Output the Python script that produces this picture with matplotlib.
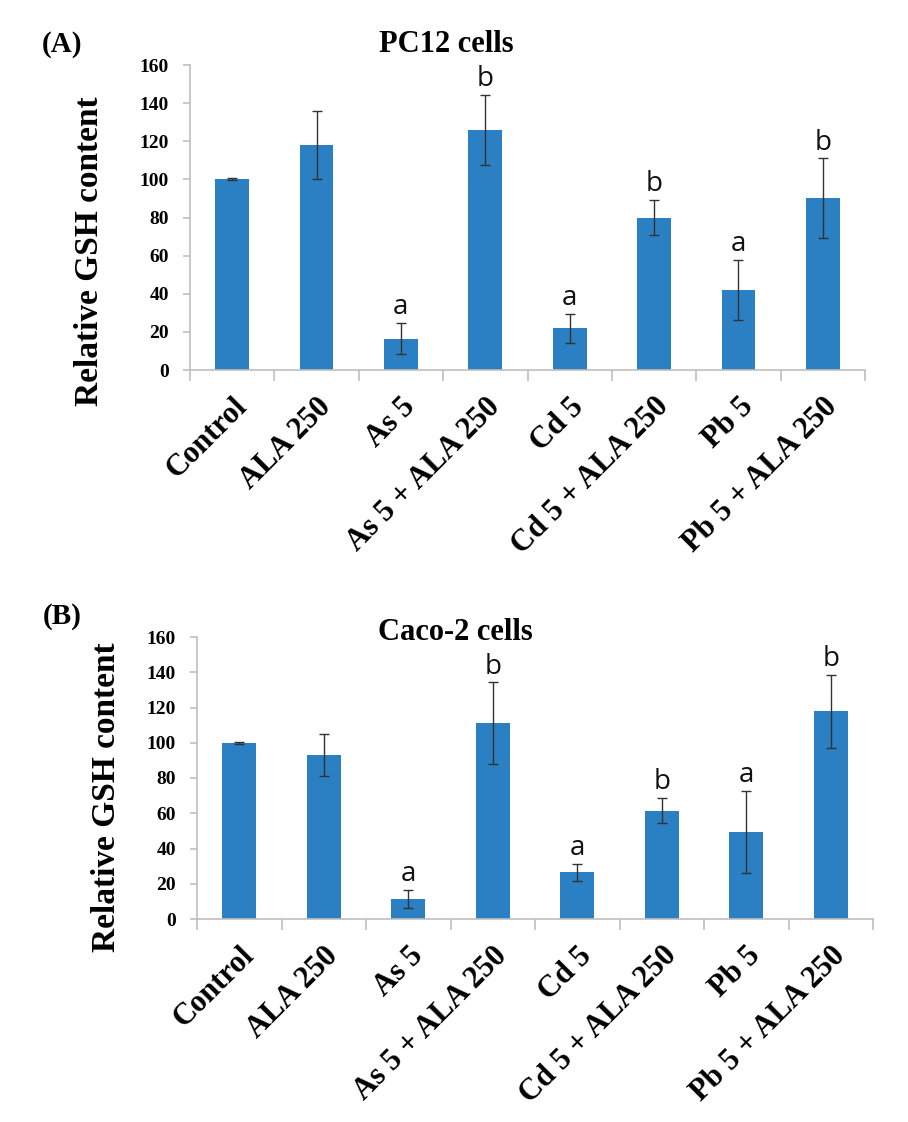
import matplotlib
matplotlib.use("Agg")
import matplotlib.pyplot as plt
import numpy as np

categories = ["Control", "ALA 250", "As 5", "As 5 + ALA 250", "Cd 5",
              "Cd 5 + ALA 250", "Pb 5", "Pb 5 + ALA 250"]

pc12_values = [100, 118, 16.5, 126, 22, 80, 42, 90]
pc12_errors = [0.5, 18, 8, 18.5, 7.6, 9.2, 15.7, 21]
pc12_letters = ["", "", "a", "b", "a", "b", "a", "b"]

caco2_values = [100, 93, 11.5, 111, 26.5, 61.5, 49.5, 118]
caco2_errors = [0.5, 11.8, 5, 23.2, 4.7, 7.2, 23.4, 20.7]
caco2_letters = ["", "", "a", "b", "a", "b", "a", "b"]

yticks = [0, 20, 40, 60, 80, 100, 120, 140, 160]

W, H = 908, 1122
fig = plt.figure(figsize=(W / 100, H / 100), dpi=100)

SERIF = ["Liberation Serif", "DejaVu Serif"]
SANS = ["Open Sans", "Liberation Sans", "DejaVu Sans"]
BAR = "#2a80c2"
AXC = "#bfbfbf"


def px_axes(left, top, right, bottom):
    return fig.add_axes([left / W, 1 - bottom / H, (right - left) / W, (bottom - top) / H])


def draw(ax, values, errors, letters):
    x = np.arange(len(categories))
    ax.bar(x, values, width=0.4, color=BAR, zorder=2)
    ax.errorbar(x, values, yerr=errors, fmt="none", ecolor="#333333",
                elinewidth=1.0, capsize=3.5, capthick=1.0, zorder=3)
    for xi, v, e, l in zip(x, values, errors, letters):
        if l:
            ax.text(xi, v + e + 1.0, l, ha="center", va="bottom",
                    fontsize=20, family=SANS, color="#111111", clip_on=False)
    ax.set_xlim(-0.5, len(categories) - 0.5)
    ax.set_ylim(0, 160)
    ax.set_yticks(yticks)
    ax.set_yticklabels([str(t) for t in yticks], family=SERIF,
                       fontweight="bold", fontsize=14)
    ax.set_xticks(x)
    ax.set_xticklabels(categories, rotation=45, ha="right",
                       rotation_mode="anchor", family=SERIF,
                       fontweight="bold", fontsize=22)
    ax.set_xticks(np.arange(len(categories) + 1) - 0.5, minor=True)
    ax.tick_params(axis="x", which="major", length=0, pad=16)
    ax.tick_params(axis="x", which="minor", length=8, color=AXC, width=1.2)
    ax.tick_params(axis="y", length=5, color=AXC, width=1.2, pad=10)
    for s in ["top", "right"]:
        ax.spines[s].set_visible(False)
    for s in ["left", "bottom"]:
        ax.spines[s].set_color(AXC)
        ax.spines[s].set_linewidth(1.2)


axA = px_axes(190, 65, 865, 370)
draw(axA, pc12_values, pc12_errors, pc12_letters)
axB = px_axes(197, 637, 873, 919)
draw(axB, caco2_values, caco2_errors, caco2_letters)

fig.text(446 / W, 1 - 45 / H, "PC12 cells", ha="center", va="center",
         family=SERIF, fontweight="bold", fontsize=22)
fig.text(455 / W, 1 - 633 / H, "Caco-2 cells", ha="center", va="center",
         family=SERIF, fontweight="bold", fontsize=22)
fig.text(62 / W, 1 - 44 / H, "(A)", ha="center", va="center",
         family=SERIF, fontweight="bold", fontsize=21)
fig.text(62 / W, 1 - 617 / H, "(B)", ha="center", va="center",
         family=SERIF, fontweight="bold", fontsize=21)
fig.text(90 / W, 1 - 251 / H, "Relative GSH content", ha="center", va="center",
         rotation=90, family=SERIF, fontweight="bold", fontsize=24)
fig.text(107 / W, 1 - 797 / H, "Relative GSH content", ha="center", va="center",
         rotation=90, family=SERIF, fontweight="bold", fontsize=24)

fig.savefig("out.png", dpi=100)
